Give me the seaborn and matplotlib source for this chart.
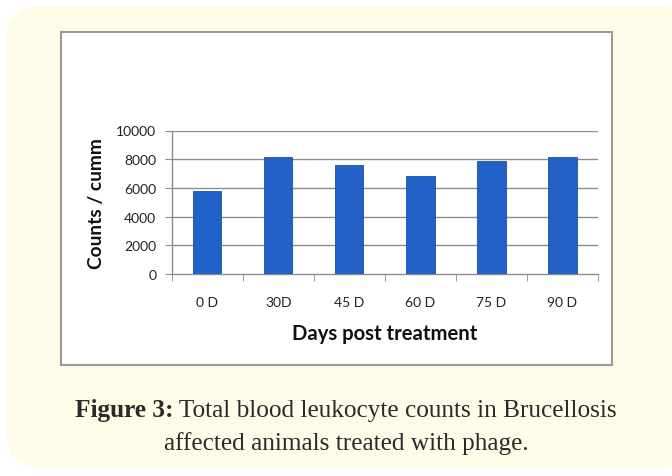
import matplotlib
matplotlib.use("Agg")
import matplotlib.pyplot as plt
from matplotlib.patches import FancyBboxPatch, Rectangle
import seaborn as sns
import pandas as pd

days = ["0 D", "30D", "45 D", "60 D", "75 D", "90 D"]
counts = [5750, 8150, 7600, 6850, 7850, 8150]
y_ticks = [0, 2000, 4000, 6000, 8000, 10000]
caption_bold = "Figure 3:"
caption_line1 = " Total blood leukocyte counts in Brucellosis"
caption_line2 = "affected animals treated with phage."

sns.set_style("white")
plt.rcParams['font.family'] = ['Lato', 'DejaVu Sans']

W, H = 672, 477
fig = plt.figure(figsize=(W / 100, H / 100), dpi=100)
fig.patch.set_facecolor("white")

# cream rounded panel
panel = FancyBboxPatch((7 / W, 8 / H), (W + 20 - 7) / W, (470 - 8) / H,
                       boxstyle="round,pad=0,rounding_size=0.05",
                       transform=fig.transFigure, facecolor="#fefbe8",
                       edgecolor="none", mutation_aspect=W / H, zorder=-2)
fig.patches.append(panel)
# white chart frame
frame = Rectangle((61 / W, 1 - 366 / H), (612 - 61) / W, (366 - 33) / H,
                  transform=fig.transFigure, facecolor="white",
                  edgecolor="#9a9a9a", linewidth=1.5, zorder=-1)
fig.patches.append(frame)

ax = fig.add_axes([171.5 / W, 1 - 275 / H, (598 - 171.5) / W, (275 - 131.5) / H])
ax.set_zorder(3)
ax.set_facecolor("none")
df = pd.DataFrame({"day": days, "count": counts})
sns.barplot(data=df, x="day", y="count", ax=ax, color="#2262c8",
            width=0.40, edgecolor="#1c4fa6", linewidth=0.6, saturation=1, zorder=3)
ax.set_ylim(0, 10000)
ax.set_xlim(-0.5, len(days) - 0.5)
ax.set_yticks(y_ticks)
ax.set_yticklabels([str(t) for t in y_ticks], fontsize=10, color="#222222")
for t in y_ticks[1:]:
    ax.axhline(t, color="#8c8c8c", linewidth=1.0, zorder=1)
ax.set_xticks(range(len(days)))
ax.set_xticklabels(days, fontsize=10, color="#222222")
ax.tick_params(axis="x", length=0, pad=16)
ax.tick_params(axis="y", length=5, direction="out", color="#8c8c8c", left=True, pad=6)
# category boundary ticks
ax.set_xticks([i - 0.5 for i in range(len(days) + 1)], minor=True)
ax.tick_params(axis="x", which="minor", length=5, direction="out", color="#8c8c8c", bottom=True)
for s in ["top", "right"]:
    ax.spines[s].set_visible(False)
for s in ["left", "bottom"]:
    ax.spines[s].set_color("#8c8c8c")
    ax.spines[s].set_linewidth(1.0)
ax.set_xlabel("Days post treatment", fontsize=14.6, fontweight="bold", labelpad=11, color="#111111")
ax.set_ylabel("Counts / cumm", fontsize=13.8, fontweight="bold", labelpad=8, color="#111111")

# caption
serif = ["Liberation Serif", "DejaVu Serif"]
fs = 18.2
cx = 346
fig.canvas.draw()
r = fig.canvas.get_renderer()
tb = fig.text(0, 0, caption_bold, fontsize=fs, family=serif, fontweight="bold", color="#2a2a2a", va="center")
tr = fig.text(0, 0, caption_line1, fontsize=fs, family=serif, color="#2a2a2a", va="center")
wb = tb.get_window_extent(r).width
wr = tr.get_window_extent(r).width
x0 = cx - (wb + wr) / 2
tb.set_position((x0 / W, 1 - 411 / H))
tr.set_position(((x0 + wb) / W, 1 - 411 / H))
fig.text(cx / W, 1 - 444 / H, caption_line2, ha="center", va="center",
         fontsize=fs, family=serif, color="#2a2a2a")

fig.savefig("out.png", dpi=100)
